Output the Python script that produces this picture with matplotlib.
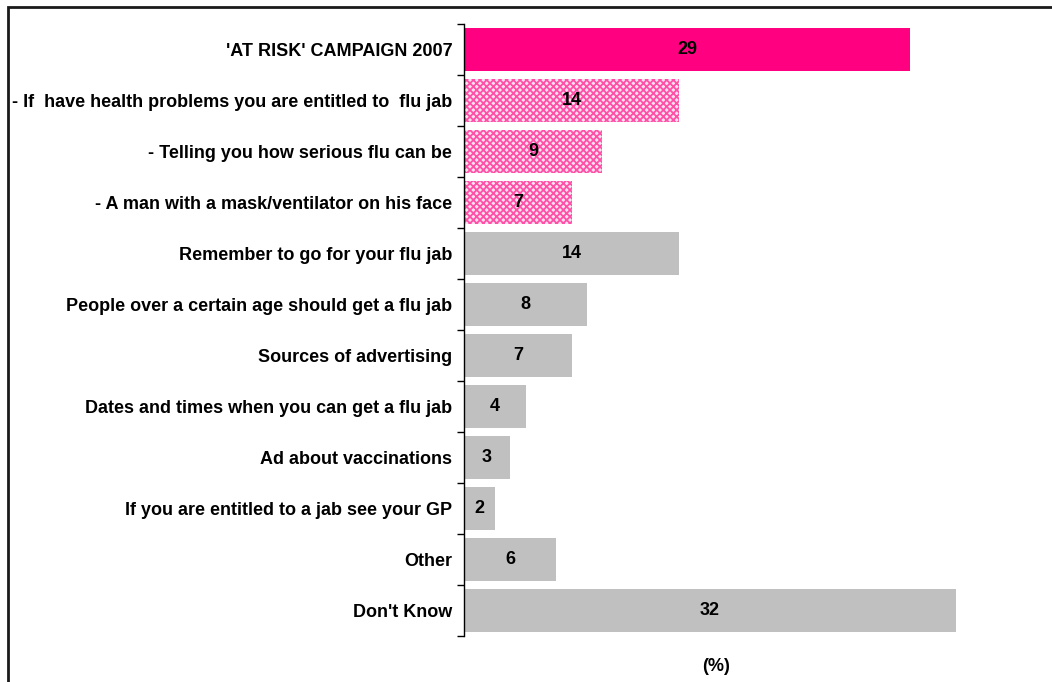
import matplotlib
matplotlib.use("Agg")
import matplotlib.pyplot as plt
from matplotlib.patches import Rectangle

plt.rcParams['font.family'] = ['Liberation Sans', 'DejaVu Sans']
plt.rcParams['hatch.linewidth'] = 1.3

categories = [
    "'AT RISK' CAMPAIGN 2007",
    "- If  have health problems you are entitled to  flu jab",
    "- Telling you how serious flu can be",
    "- A man with a mask/ventilator on his face",
    "Remember to go for your flu jab",
    "People over a certain age should get a flu jab",
    "Sources of advertising",
    "Dates and times when you can get a flu jab",
    "Ad about vaccinations",
    "If you are entitled to a jab see your GP",
    "Other",
    "Don't Know",
]
values = [29, 14, 9, 7, 14, 8, 7, 4, 3, 2, 6, 32]
styles = ["solid", "hatch", "hatch", "hatch"] + ["grey"] * 8
xlabel = "(%)"

W, H = 1052, 682
fig = plt.figure(figsize=(W / 100, H / 100), dpi=100)
fig.patch.set_facecolor('white')

# outer frame (left and top visible)
fig.add_artist(Rectangle((8 / W, -0.1), 1.2, (H - 7) / H + 0.1, transform=fig.transFigure,
                         fill=False, edgecolor='#1a1a1a', linewidth=2))

ax_left, ax_right = 464, 968
ax_top, ax_bot = 24, 636
ax = fig.add_axes([ax_left / W, 1 - ax_bot / H, (ax_right - ax_left) / W, (ax_bot - ax_top) / H])

FS = 12.95
n = len(categories)
ypos = list(range(n))
for i, (v, s) in enumerate(zip(values, styles)):
    if s == "solid":
        ax.barh(i, v, height=0.86, color='#FF0080', edgecolor='none')
    elif s == "hatch":
        ax.barh(i, v, height=0.86, facecolor='#FFE0F0', edgecolor='#FF50A8',
                hatch='xxxxx', linewidth=0)
    else:
        ax.barh(i, v, height=0.86, color='#C0C0C0', edgecolor='none')
    ax.text(v / 2, i, str(v), ha='center', va='center', fontsize=FS, fontweight='bold', color='black')

ax.set_ylim(n - 0.5, -0.5)
ax.set_xlim(0, 32.78)
ax.set_yticks(ypos)
ax.set_yticklabels(categories, fontsize=FS, fontweight='bold')
ax.tick_params(axis='y', which='major', length=0, pad=8.5)
ax.set_yticks([i - 0.5 for i in range(n + 1)], minor=True)
ax.tick_params(axis='y', which='minor', length=5, width=1, direction='out', color='black')
ax.set_xticks([])
for sp in ['top', 'right', 'bottom']:
    ax.spines[sp].set_visible(False)
ax.spines['left'].set_linewidth(1)
ax.spines['left'].set_color('black')
ax.set_xlabel(xlabel, fontsize=FS, fontweight='bold', labelpad=16)

fig.savefig('out.png', dpi=100)
